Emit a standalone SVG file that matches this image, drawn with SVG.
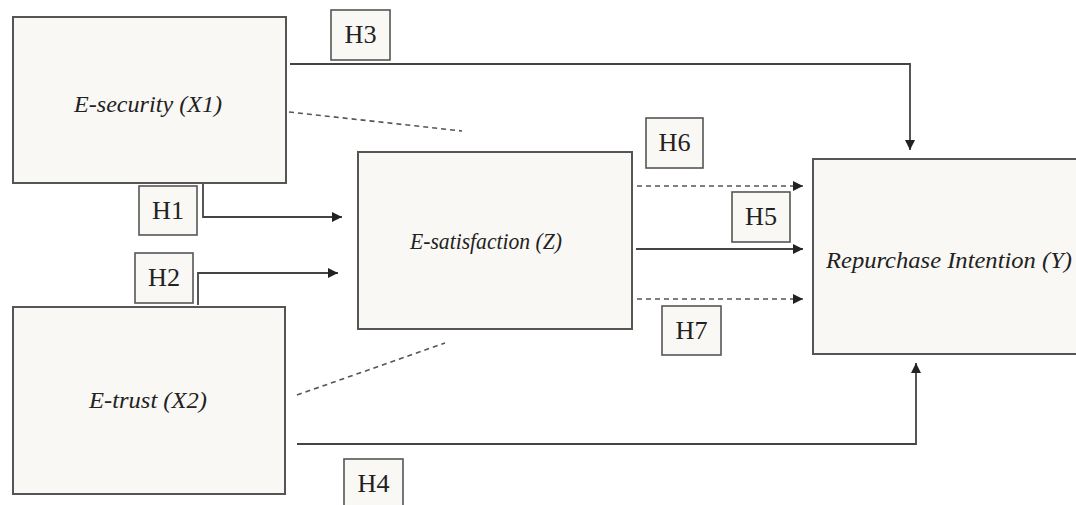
<svg xmlns="http://www.w3.org/2000/svg" width="1076" height="505" viewBox="0 0 1076 505">
<style>
.box{fill:#faf8f4;stroke:#555;stroke-width:2}
.hbox{fill:#faf8f4;stroke:#555;stroke-width:1.6}
.lbl{font-family:"Liberation Serif","Times New Roman",serif;font-style:italic;font-size:23px;fill:#222}
.h{font-family:"Liberation Serif","Times New Roman",serif;font-size:25px;fill:#222;text-anchor:middle}
.ln{fill:none;stroke:#444;stroke-width:1.8}
.dash{fill:none;stroke:#555;stroke-width:1.6;stroke-dasharray:5,4}
</style>
<defs>
<marker id="ah2" viewBox="0 0 10 10" refX="10" refY="5" markerWidth="10" markerHeight="10" orient="auto" markerUnits="userSpaceOnUse">
<path d="M0,0 L10,5 L0,10 z" fill="#222"/>
</marker>
</defs>
<rect width="1076" height="505" fill="#fff"/>
<g id="connectors">
<polyline class="ln" points="290,64 910,64 910,150" marker-end="url(#ah2)"/>
<line class="dash" x1="289" y1="112" x2="462" y2="131"/>
<polyline class="ln" points="203,183 203,217 342,217" marker-end="url(#ah2)"/>
<polyline class="ln" points="198,305 198,273 338,273" marker-end="url(#ah2)"/>
<line class="dash" x1="637" y1="186" x2="803" y2="186" marker-end="url(#ah2)"/>
<line class="ln" x1="636" y1="249" x2="803" y2="249" marker-end="url(#ah2)"/>
<line class="dash" x1="637" y1="299" x2="803" y2="299" marker-end="url(#ah2)"/>
<line class="dash" x1="297" y1="395" x2="445" y2="343"/>
<polyline class="ln" points="297,444 916,444 916,363" marker-end="url(#ah2)"/>
</g>
<g id="node-x1">
<rect class="box" x="13" y="17" width="273" height="166"/>
<text class="lbl" x="74" y="112" textLength="148" lengthAdjust="spacingAndGlyphs">E-security (X1)</text>
</g>
<g id="node-x2">
<rect class="box" x="13" y="307" width="272" height="187"/>
<text class="lbl" x="89" y="408" textLength="118" lengthAdjust="spacingAndGlyphs">E-trust (X2)</text>
</g>
<g id="node-z">
<rect class="box" x="358" y="152" width="274" height="177"/>
<text class="lbl" x="410" y="249" textLength="152" lengthAdjust="spacingAndGlyphs">E-satisfaction (Z)</text>
</g>
<g id="node-y">
<rect class="box" x="813" y="159" width="270" height="195"/>
<text class="lbl" x="826" y="268" textLength="246" lengthAdjust="spacingAndGlyphs">Repurchase Intention (Y)</text>
</g>
<g id="h1"><rect class="hbox" x="139" y="186" width="58" height="49"/><text class="h" x="168" y="219" textLength="32" lengthAdjust="spacingAndGlyphs">H1</text></g>
<g id="h2"><rect class="hbox" x="135" y="253" width="58" height="50"/><text class="h" x="164" y="286" textLength="32" lengthAdjust="spacingAndGlyphs">H2</text></g>
<g id="h3"><rect class="hbox" x="331" y="10" width="59" height="50"/><text class="h" x="360.500" y="43" textLength="32" lengthAdjust="spacingAndGlyphs">H3</text></g>
<g id="h4"><rect class="hbox" x="344" y="459" width="59" height="50"/><text class="h" x="373.500" y="492" textLength="32" lengthAdjust="spacingAndGlyphs">H4</text></g>
<g id="h5"><rect class="hbox" x="732" y="192" width="58" height="50"/><text class="h" x="761" y="225" textLength="32" lengthAdjust="spacingAndGlyphs">H5</text></g>
<g id="h6"><rect class="hbox" x="646" y="118" width="57" height="50"/><text class="h" x="674.500" y="151" textLength="32" lengthAdjust="spacingAndGlyphs">H6</text></g>
<g id="h7"><rect class="hbox" x="662" y="306" width="59" height="49"/><text class="h" x="691.500" y="339" textLength="32" lengthAdjust="spacingAndGlyphs">H7</text></g>
</svg>
